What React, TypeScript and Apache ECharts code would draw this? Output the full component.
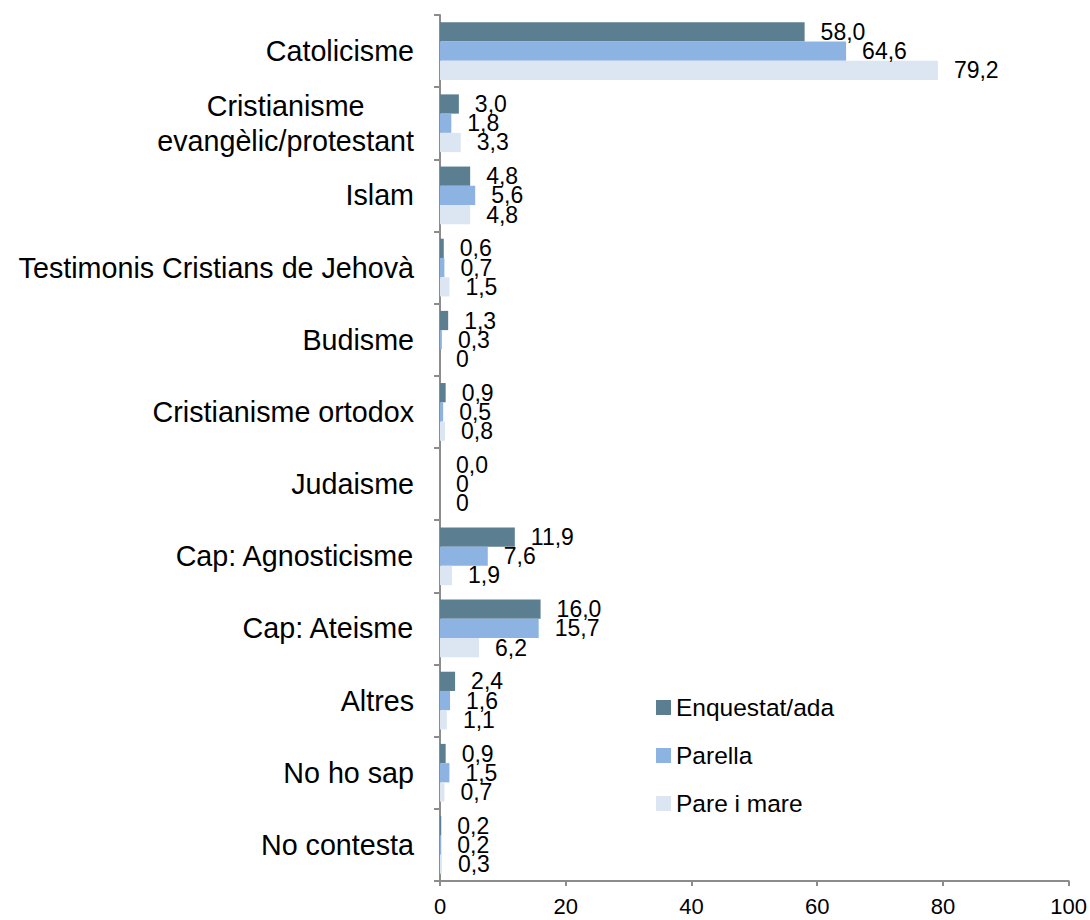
import React, { useEffect, useRef } from "react";
import * as echarts from "echarts";

const categories = [
  "Catolicisme",
  "Cristianisme\nevangèlic/protestant",
  "Islam",
  "Testimonis Cristians de Jehovà",
  "Budisme",
  "Cristianisme ortodox",
  "Judaisme",
  "Cap: Agnosticisme",
  "Cap: Ateisme",
  "Altres",
  "No ho sap",
  "No contesta",
];

const seriesNames = ["Enquestat/ada", "Parella", "Pare i mare"];

const enquestatValues = [58.0, 3.0, 4.8, 0.6, 1.3, 0.9, 0.0, 11.9, 16.0, 2.4, 0.9, 0.2];
const parellaValues = [64.6, 1.8, 5.6, 0.7, 0.3, 0.5, 0, 7.6, 15.7, 1.6, 1.5, 0.2];
const pareMareValues = [79.2, 3.3, 4.8, 1.5, 0, 0.8, 0, 1.9, 6.2, 1.1, 0.7, 0.3];

const enquestatLabels = ["58,0", "3,0", "4,8", "0,6", "1,3", "0,9", "0,0", "11,9", "16,0", "2,4", "0,9", "0,2"];
const parellaLabels = ["64,6", "1,8", "5,6", "0,7", "0,3", "0,5", "0", "7,6", "15,7", "1,6", "1,5", "0,2"];
const pareMareLabels = ["79,2", "3,3", "4,8", "1,5", "0", "0,8", "0", "1,9", "6,2", "1,1", "0,7", "0,3"];

const xTicks = [0, 20, 40, 60, 80, 100];

const colors = ["#5B7E90", "#8DB3E2", "#DCE6F2"];
const FONT = "'Liberation Sans', Arial, sans-serif";

export default function App() {
  const ref = useRef<HTMLDivElement>(null);

  useEffect(() => {
    document.body.style.margin = "0";
    if (!ref.current) return;
    const chart = echarts.init(ref.current, undefined, { renderer: "svg" });

    const makeSeries = (name: string, values: number[], labels: string[], color: string) => ({
      name,
      type: "bar",
      data: values,
      barGap: "0%",
      barCategoryGap: "20%",
      itemStyle: { color },
      label: {
        show: true,
        position: "right",
        distance: 16,
        fontFamily: FONT,
        fontSize: 23,
        color: "#000",
        formatter: (p: any) => labels[p.dataIndex],
      },
    });

    chart.setOption({
      animation: false,
      textStyle: { fontFamily: FONT },
      grid: { left: 440, right: 21, top: 15, bottom: 39, containLabel: false },
      legend: {
        orient: "vertical",
        left: 656,
        top: 695,
        padding: 0,
        icon: "rect",
        itemWidth: 15,
        itemHeight: 15,
        itemGap: 23,
        textStyle: { fontFamily: FONT, fontSize: 24.5, color: "#000" },
        data: seriesNames,
      },
      xAxis: {
        type: "value",
        min: xTicks[0],
        max: xTicks[xTicks.length - 1],
        interval: xTicks[1] - xTicks[0],
        splitLine: { show: false },
        axisLine: { show: true, lineStyle: { color: "#8C8C8C", width: 2 } },
        axisTick: { show: true, length: 5, lineStyle: { color: "#8C8C8C", width: 2 } },
        axisLabel: { fontFamily: FONT, fontSize: 22, color: "#000", margin: 14 },
      },
      yAxis: {
        type: "category",
        inverse: true,
        data: categories,
        axisLine: { show: true, lineStyle: { color: "#8C8C8C", width: 2 } },
        axisTick: { show: true, length: 6, lineStyle: { color: "#8C8C8C", width: 2 } },
        axisLabel: {
          margin: 26,
          color: "#000",
          formatter: (v: string) =>
            v
              .split("\n")
              .map((l) => `{c|${l}}`)
              .join("\n"),
          rich: {
            c: { fontFamily: FONT, fontSize: 28.7, lineHeight: 35, align: "center", color: "#000" },
          },
        },
      },
      series: [
        makeSeries(seriesNames[0], enquestatValues, enquestatLabels, colors[0]),
        makeSeries(seriesNames[1], parellaValues, parellaLabels, colors[1]),
        makeSeries(seriesNames[2], pareMareValues, pareMareLabels, colors[2]),
      ],
    });

    return () => chart.dispose();
  }, []);

  return <div ref={ref} style={{ width: 1090, height: 920 }} />;
}
